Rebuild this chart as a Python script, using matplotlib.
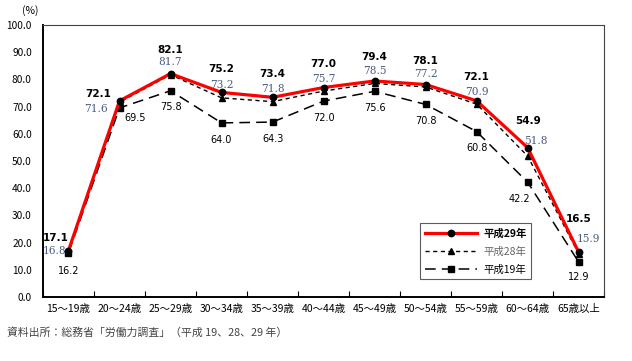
import numpy as np
import matplotlib
matplotlib.use('Agg')
import matplotlib.pyplot as plt
from matplotlib.lines import Line2D

plt.rcParams['font.family'] = ['Noto Sans CJK JP', 'DejaVu Sans']

## data
ages = ['15～19歳', '20～24歳', '25～29歳', '30～34歳', '35～39歳', '40～44歳',
        '45～49歳', '50～54歳', '55～59歳', '60～64歳', '65歳以上']
h29 = [17.1, 72.1, 82.1, 75.2, 73.4, 77.0, 79.4, 78.1, 72.1, 54.9, 16.5]
h28 = [16.8, 71.6, 81.7, 73.2, 71.8, 75.7, 78.5, 77.2, 70.9, 51.8, 15.9]
h19 = [16.2, 69.5, 75.8, 64.0, 64.3, 72.0, 75.6, 70.8, 60.8, 42.2, 12.9]
series_names = ['平成29年', '平成28年', '平成19年']
yticks = np.arange(0, 101, 10)

# label offsets (points) for each series
off29 = [(-9, 9), (-15, 5), (0, 17), (0, 17), (0, 17), (0, 17), (0, 17), (0, 17), (0, 17), (0, 19), (0, 24)]
off28 = [(-10, 0), (-17, -5), (0, 9), (0, 9), (0, 9), (0, 9), (0, 9), (0, 9), (0, 9), (6, 11), (7, 11)]
off19 = [(0, -13), (11, -7), (0, -12), (0, -12), (0, -12), (0, -12), (0, -12), (0, -12), (0, -12), (-6, -12), (0, -11)]

x = np.arange(len(ages))

fig = plt.figure(figsize=(6.32, 3.61), dpi=100)
ax = fig.add_axes([0.068, 0.177, 0.888, 0.754])

ax.plot(x, h19, color='black', lw=1.1, dashes=(7, 4), marker='s', ms=4.3, zorder=2)
ax.plot(x, h28, color='black', lw=1.0, dashes=(3, 2.5), marker='^', ms=4.5, zorder=3)
ax.plot(x, h29, color='#ff0000', lw=2.3, marker='o', mfc='black', mec='black', ms=4.6, zorder=4)

sercol = '#4a5a80'
for i in x:
    ax.annotate(f'{h29[i]:.1f}', (i, h29[i]), xytext=off29[i], textcoords='offset points',
                ha='center', va='center', fontsize=7.5, fontweight='bold', family='DejaVu Sans')
    ax.annotate(f'{h28[i]:.1f}', (i, h28[i]), xytext=off28[i], textcoords='offset points',
                ha='center', va='center', fontsize=7.6, color=sercol, family='DejaVu Serif')
    ax.annotate(f'{h19[i]:.1f}', (i, h19[i]), xytext=off19[i], textcoords='offset points',
                ha='center', va='center', fontsize=7, family='DejaVu Sans')

ax.set_xlim(-0.5, len(ages) - 0.5)
ax.set_ylim(0, 100)
ax.set_yticks(yticks)
ax.set_yticklabels([f'{v:.1f}' for v in yticks], fontsize=7.3)
ax.tick_params(axis='y', length=0, pad=8)
ax.set_xticks(x)
ax.set_xticklabels(ages, fontsize=7.5)
ax.tick_params(axis='x', length=0, pad=5)
ax.set_xticks(np.arange(len(ages) + 1) - 0.5, minor=True)
ax.tick_params(axis='x', which='minor', direction='in', length=4, width=0.8)

for s in ['left', 'bottom']:
    ax.spines[s].set_linewidth(1.4)
    ax.spines[s].set_color('black')
for s in ['top', 'right']:
    ax.spines[s].set_linewidth(0.8)
    ax.spines[s].set_color('#444444')

handles = [
    Line2D([], [], color='#ff0000', lw=2.3, marker='o', mfc='black', mec='black', ms=4.6),
    Line2D([], [], color='black', lw=1.0, dashes=(3, 2.5), marker='^', ms=4.5),
    Line2D([], [], color='black', lw=1.1, dashes=(7, 4), marker='s', ms=4.3),
]
leg = ax.legend(handles, series_names, loc='lower left', bbox_to_anchor=(0.672, 0.066),
                borderaxespad=0, fontsize=7.5, frameon=True, fancybox=False,
                edgecolor='#333333', handlelength=5.0, labelspacing=0.75,
                borderpad=0.45, handletextpad=0.6)
leg.get_frame().set_linewidth(0.8)
txts = leg.get_texts()
txts[0].set_fontweight('bold')
txts[1].set_color('#666666')

fig.text(0.035, 0.972, '(%)', fontsize=7.5, ha='left', va='center')
fig.text(0.011, 0.08, '資料出所：総務省「労働力調査」（平成 19、28、29 年）', fontsize=7.8,
         color='#444444', ha='left', va='center')

fig.savefig('out.png', dpi=100)
